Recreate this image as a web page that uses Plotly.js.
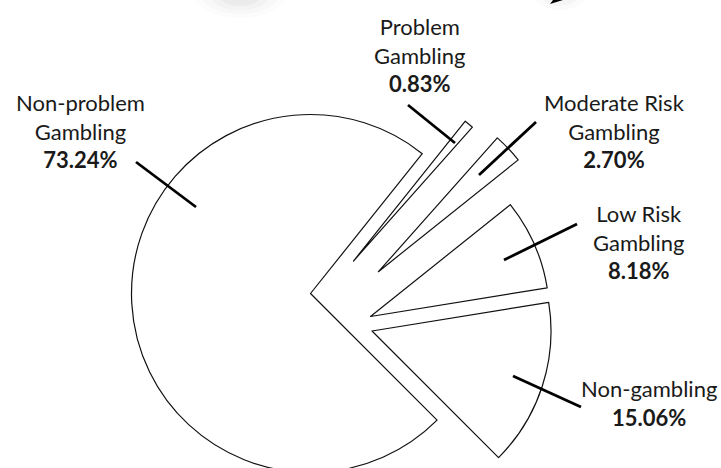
<!DOCTYPE html>
<html><head><meta charset="utf-8">
<script src="https://cdn.plot.ly/plotly-3.0.1.min.js"></script>
<style>html,body{margin:0;padding:0;overflow:hidden;background:#fff}#chart{width:721px;height:540px}</style>
</head><body><div id="chart"></div>
<script>
// ---- data ----
const categories = ['Non-problem Gambling', 'Problem Gambling', 'Moderate Risk Gambling', 'Low Risk Gambling', 'Non-gambling'];
const shares = [73.24, 0.83, 2.70, 8.18, 15.06];
const labelLines = [['Non-problem', 'Gambling'], ['Problem', 'Gambling'], ['Moderate Risk', 'Gambling'], ['Low Risk', 'Gambling'], ['Non-gambling']];

// ---- layout (pixels in a 721 x 540 page) ----
const W = 721, H = 540, R = 179;
const sliceCentres = [[310.5, 293.5], [353.5, 261], [378.4, 271.7], [370.5, 316.5], [372, 331]];
const labelPos = [[80, 131], [420, 55], [614, 131], [638.5, 242], [649, 403]];
const leaderLines = [[136, 162, 196, 207], [408, 105, 455, 143], [479, 175, 536, 122], [504, 260, 577, 224], [513, 376, 581, 407]];

const px = x => x / W, py = y => 1 - y / H;

const traces = categories.map((c, i) => {
  const [cx, cy] = sliceCentres[i];
  return {
    type: 'pie', labels: categories, values: shares, sort: false,
    direction: 'clockwise', rotation: 135,
    domain: {x: [px(cx - R), px(cx + R)], y: [py(cy + R), py(cy - R)]},
    marker: {
      colors: categories.map((_, j) => j === i ? '#ffffff' : 'rgba(0,0,0,0)'),
      line: {color: '#111111', width: categories.map((_, j) => j === i ? 1.2 : 0)}
    },
    textinfo: 'none', hoverinfo: 'label+percent', showlegend: false
  };
});

const annotations = categories.map((c, i) => ({
  xref: 'paper', yref: 'paper', x: px(labelPos[i][0]), y: py(labelPos[i][1]),
  xanchor: 'center', yanchor: 'middle', showarrow: false, align: 'center',
  text: labelLines[i].join('<br>') + '<br><b>' + shares[i].toFixed(2) + '%</b>',
  font: {family: 'Lato, sans-serif', size: 22, color: '#1a1a1a', weight: 400}
}));

const shapes = leaderLines.map(l => ({
  type: 'line', xref: 'paper', yref: 'paper',
  x0: px(l[0]), y0: py(l[1]), x1: px(l[2]), y1: py(l[3]),
  line: {color: '#000000', width: 2.8}
}));
// faint, blurred remnants of a header graphic at the very top
[[46, 22, 0.012], [38, 18, 0.015], [30, 14, 0.02], [20, 10, 0.03]].forEach(([rx, ry, a]) => {
  shapes.push({type: 'circle', xref: 'paper', yref: 'paper',
    x0: px(240 - rx), x1: px(240 + rx), y0: py(-4 + ry), y1: py(-4 - ry),
    fillcolor: `rgba(0,0,0,${a})`, line: {width: 0}});
});
[[26, 14, 0.015], [18, 10, 0.025]].forEach(([rx, ry, a]) => {
  shapes.push({type: 'circle', xref: 'paper', yref: 'paper',
    x0: px(560 - rx), x1: px(560 + rx), y0: py(-4 + ry), y1: py(-4 - ry),
    fillcolor: `rgba(0,0,0,${a})`, line: {width: 0}});
});
shapes.push({type: 'path', xref: 'paper', yref: 'paper',
  path: `M ${px(550)} ${py(4)} L ${px(563)} ${py(0)} L ${px(553)} ${py(0)} Z`,
  fillcolor: '#000000', line: {width: 0}});

Plotly.newPlot('chart', traces, {
  width: W, height: H, margin: {l: 0, r: 0, t: 0, b: 0},
  paper_bgcolor: '#ffffff', plot_bgcolor: '#ffffff',
  annotations: annotations, shapes: shapes, showlegend: false
}, {displayModeBar: false, staticPlot: true});
</script></body></html>
